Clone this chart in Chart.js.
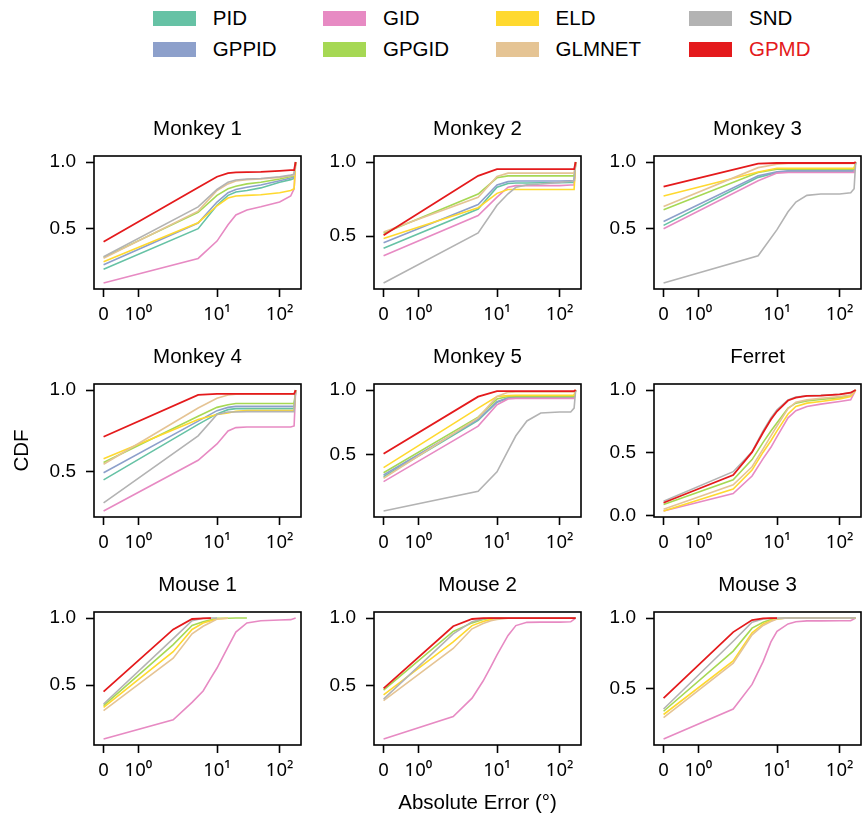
<!DOCTYPE html>
<html>
<head>
<meta charset="utf-8">
<script src="https://cdn.jsdelivr.net/npm/chart.js@4.4.1/dist/chart.umd.min.js"></script>
<style>
  body { margin: 0; background: #fff; }
  #fig { position: relative; width: 863px; height: 819px; overflow: hidden; font-family: "Liberation Sans", Arial, sans-serif; }
  #fig canvas { position: absolute; }
  .leg { position: absolute; display: flex; align-items: center; font-size: 20.5px; height: 24px; white-space: nowrap; }
  .leg .sw { display: inline-block; width: 43px; height: 15px; margin-right: 17px; }
</style>
</head>
<body>
<div id="fig"></div>
<script>
// methods in legend order (column-major) and their colours
const methods = ['PID', 'GPPID', 'GID', 'GPGID', 'ELD', 'GLMNET', 'SND', 'GPMD'];
const colors = ['#66c2a5', '#8da0cb', '#e78ac3', '#a6d854', '#ffd92f', '#e5c494', '#b3b3b3', '#e41a1c'];

const panelTitles = ['Monkey 1', 'Monkey 2', 'Monkey 3', 'Monkey 4', 'Monkey 5', 'Ferret', 'Mouse 1', 'Mouse 2', 'Mouse 3'];

// x positions (absolute error, degrees)
const xMonkey = [0, 5, 10, 15, 20, 30, 50, 100, 150, 170, 180];
const xSmall = [0, 2, 4, 6, 8, 10, 15, 20, 30, 50, 100, 150, 180];

const xTickValues = [0, 1, 10, 100];
const xTickText = ['0', '10\u2070', '10\u00b9', '10\u00b2'];
const yTickValues = [0, 0.5, 1];

// CDF values, one row per method (same order as methods)
const monkey1 = [
  [0.196, 0.500, 0.676, 0.750, 0.775, 0.787, 0.806, 0.848, 0.868, 0.877, 1.0],
  [0.230, 0.542, 0.700, 0.770, 0.794, 0.811, 0.828, 0.860, 0.880, 0.885, 1.0],
  [0.093, 0.277, 0.407, 0.530, 0.603, 0.640, 0.664, 0.700, 0.745, 0.800, 1.0],
  [0.285, 0.623, 0.750, 0.800, 0.818, 0.836, 0.848, 0.873, 0.892, 0.897, 1.0],
  [0.252, 0.545, 0.672, 0.730, 0.745, 0.750, 0.755, 0.770, 0.787, 0.800, 1.0],
  [0.279, 0.632, 0.787, 0.836, 0.858, 0.868, 0.873, 0.885, 0.897, 0.902, 1.0],
  [0.289, 0.664, 0.794, 0.848, 0.865, 0.873, 0.877, 0.890, 0.902, 0.909, 1.0],
  [0.402, 0.809, 0.890, 0.917, 0.922, 0.924, 0.926, 0.934, 0.939, 0.940, 1.0]
];
const monkey2 = [
  [0.419, 0.683, 0.830, 0.855, 0.859, 0.859, 0.860, 0.860, 0.862, 0.862, 1.0],
  [0.456, 0.714, 0.846, 0.868, 0.872, 0.872, 0.872, 0.872, 0.874, 0.874, 1.0],
  [0.368, 0.639, 0.764, 0.830, 0.841, 0.841, 0.841, 0.841, 0.845, 0.845, 1.0],
  [0.520, 0.784, 0.894, 0.907, 0.907, 0.907, 0.907, 0.907, 0.907, 0.907, 1.0],
  [0.485, 0.692, 0.789, 0.815, 0.815, 0.815, 0.815, 0.815, 0.815, 0.815, 1.0],
  [0.529, 0.762, 0.903, 0.925, 0.925, 0.925, 0.925, 0.925, 0.925, 0.925, 1.0],
  [0.185, 0.522, 0.709, 0.786, 0.830, 0.846, 0.852, 0.863, 0.870, 0.875, 1.0],
  [0.507, 0.907, 0.952, 0.952, 0.952, 0.952, 0.952, 0.952, 0.952, 0.952, 1.0]
];
const monkey3 = [
  [0.525, 0.885, 0.922, 0.930, 0.930, 0.930, 0.930, 0.930, 0.930, 0.930, 1.0],
  [0.554, 0.897, 0.926, 0.934, 0.934, 0.934, 0.934, 0.934, 0.934, 0.934, 1.0],
  [0.500, 0.860, 0.917, 0.922, 0.922, 0.922, 0.922, 0.922, 0.922, 0.922, 1.0],
  [0.642, 0.922, 0.946, 0.946, 0.946, 0.946, 0.946, 0.946, 0.946, 0.946, 1.0],
  [0.745, 0.926, 0.953, 0.953, 0.953, 0.953, 0.953, 0.953, 0.953, 0.953, 1.0],
  [0.667, 0.958, 0.983, 0.990, 0.990, 0.990, 0.990, 0.990, 0.990, 0.990, 1.0],
  [0.093, 0.297, 0.493, 0.627, 0.700, 0.750, 0.760, 0.760, 0.770, 0.800, 1.0],
  [0.816, 0.988, 0.993, 0.993, 0.993, 0.993, 0.993, 0.993, 0.993, 0.993, 1.0]
];
const monkey4 = [
  [0.450, 0.790, 0.854, 0.880, 0.886, 0.886, 0.886, 0.886, 0.886, 0.886, 1.0],
  [0.494, 0.810, 0.874, 0.894, 0.900, 0.900, 0.900, 0.900, 0.900, 0.900, 1.0],
  [0.260, 0.570, 0.670, 0.750, 0.770, 0.774, 0.774, 0.774, 0.774, 0.780, 1.0],
  [0.556, 0.840, 0.894, 0.910, 0.918, 0.918, 0.918, 0.918, 0.918, 0.918, 1.0],
  [0.580, 0.820, 0.850, 0.860, 0.870, 0.874, 0.874, 0.874, 0.874, 0.874, 1.0],
  [0.546, 0.890, 0.950, 0.970, 0.974, 0.976, 0.976, 0.976, 0.976, 0.976, 1.0],
  [0.310, 0.720, 0.850, 0.866, 0.866, 0.868, 0.868, 0.868, 0.868, 0.868, 1.0],
  [0.714, 0.970, 0.976, 0.976, 0.976, 0.976, 0.976, 0.976, 0.976, 0.976, 1.0]
];
const monkey5 = [
  [0.327, 0.764, 0.906, 0.937, 0.940, 0.940, 0.940, 0.940, 0.940, 0.940, 1.0],
  [0.340, 0.772, 0.910, 0.940, 0.944, 0.944, 0.944, 0.944, 0.944, 0.944, 1.0],
  [0.289, 0.720, 0.886, 0.930, 0.935, 0.935, 0.935, 0.935, 0.935, 0.935, 1.0],
  [0.358, 0.790, 0.930, 0.950, 0.950, 0.950, 0.950, 0.950, 0.950, 0.950, 1.0],
  [0.398, 0.860, 0.950, 0.957, 0.960, 0.960, 0.960, 0.960, 0.960, 0.960, 1.0],
  [0.315, 0.784, 0.950, 0.982, 0.985, 0.985, 0.985, 0.985, 0.985, 0.985, 1.0],
  [0.061, 0.213, 0.365, 0.530, 0.645, 0.760, 0.822, 0.830, 0.830, 0.860, 1.0],
  [0.505, 0.949, 0.992, 0.992, 0.992, 0.992, 0.992, 0.992, 0.992, 0.992, 1.0]
];
const ferret = [
  [],
  [],
  [0.039, 0.177, 0.317, 0.455, 0.545, 0.629, 0.779, 0.836, 0.870, 0.888, 0.909, 0.922, 1.0],
  [0.091, 0.286, 0.447, 0.584, 0.675, 0.740, 0.857, 0.896, 0.914, 0.925, 0.940, 0.956, 1.0],
  [0.039, 0.213, 0.364, 0.506, 0.597, 0.675, 0.810, 0.870, 0.896, 0.909, 0.930, 0.948, 1.0],
  [0.052, 0.247, 0.390, 0.532, 0.636, 0.714, 0.852, 0.904, 0.922, 0.935, 0.948, 0.961, 1.0],
  [0.117, 0.351, 0.510, 0.675, 0.779, 0.844, 0.922, 0.945, 0.955, 0.958, 0.967, 0.979, 1.0],
  [0.104, 0.325, 0.506, 0.662, 0.766, 0.831, 0.917, 0.940, 0.953, 0.956, 0.966, 0.979, 1.0]
];
const mouse1 = [
  [],
  [],
  [0.098, 0.241, 0.371, 0.456, 0.554, 0.627, 0.785, 0.895, 0.963, 0.980, 0.985, 0.988, 1.0],
  [0.346, 0.802, 0.944, 0.973, 0.988, 0.998, 0.999, 1.0, 1.0, null, null, null, null],
  [0.334, 0.749, 0.915, 0.963, 0.980, 0.993, 0.998, null, null, null, null, null, null],
  [0.310, 0.700, 0.883, 0.939, 0.968, 0.993, 0.998, null, null, null, null, null, null],
  [0.359, 0.846, 0.980, 0.998, 1.0, 1.0, null, null, null, null, null, null, null],
  [0.451, 0.915, 0.993, 0.998, 1.0, null, null, null, null, null, null, null, null]
];
const mouse2 = [
  [],
  [],
  [0.102, 0.269, 0.405, 0.532, 0.640, 0.726, 0.871, 0.944, 0.968, 0.970, 0.970, 0.972, 1.0],
  [0.464, 0.900, 0.964, 0.990, 0.998, 1.0, 1.0, 1.0, 1.0, 1.0, 1.0, 1.0, 1.0],
  [0.430, 0.823, 0.944, 0.975, 0.990, 0.998, 1.0, 1.0, 1.0, 1.0, 1.0, 1.0, 1.0],
  [0.386, 0.774, 0.920, 0.960, 0.980, 0.990, 0.998, 1.0, 1.0, 1.0, 1.0, 1.0, 1.0],
  [0.398, 0.883, 0.973, 0.995, 1.0, 1.0, 1.0, 1.0, 1.0, 1.0, 1.0, 1.0, 1.0],
  [0.478, 0.939, 0.993, 1.0, 1.0, 1.0, 1.0, 1.0, 1.0, 1.0, 1.0, 1.0, 1.0]
];
const mouse3 = [
  [],
  [],
  [0.140, 0.353, 0.528, 0.690, 0.830, 0.905, 0.958, 0.974, 0.980, 0.980, 0.981, 0.981, 1.0],
  [0.337, 0.765, 0.928, 0.970, 0.990, 0.995, 1.0, 1.0, 1.0, 1.0, 1.0, 1.0, 1.0],
  [0.314, 0.695, 0.895, 0.958, 0.980, 0.995, 1.0, 1.0, 1.0, 1.0, 1.0, 1.0, 1.0],
  [0.291, 0.679, 0.881, 0.947, 0.975, 0.993, 1.0, 1.0, 1.0, 1.0, 1.0, 1.0, 1.0],
  [0.353, 0.835, 0.970, 0.993, 0.998, 1.0, 1.0, 1.0, 1.0, 1.0, 1.0, 1.0, 1.0],
  [0.430, 0.900, 0.986, 0.998, 1.0, 1.0, null, null, null, null, null, null, null]
];

const panelX = [xMonkey, xMonkey, xMonkey, xMonkey, xMonkey, xSmall, xSmall, xSmall, xSmall];
const panelY = [monkey1, monkey2, monkey3, monkey4, monkey5, ferret, mouse1, mouse2, mouse3];

// layout (px)
const colLeft = [94, 374, 654];
const rowTop = [156, 384, 612];
const boxW = 207, boxH = 133;
const yAxisW = 94, titleH = 46, xAxisH = 72, rightPad = 8;

const FONT = "'Liberation Sans', Arial, sans-serif";
Chart.defaults.font.family = FONT;
Chart.defaults.color = '#000';

// symmetric log scale like matplotlib's symlog (linthresh 2, linscale 1)
const LINTHRESH = 2;
class SymlogScale extends Chart.Scale {
  static id = 'symlog';
  static defaults = {};
  determineDataLimits() {
    this.min = this.options.min;
    this.max = this.options.max;
  }
  buildTicks() {
    return xTickValues.map(v => ({ value: v }));
  }
  fwd(v) {
    const k = 1 / (1 - 1 / 10);
    const a = Math.abs(v);
    return Math.sign(v) * (a <= LINTHRESH ? a * k / LINTHRESH : k + Math.log10(a / LINTHRESH));
  }
  inv(t) {
    const k = 1 / (1 - 1 / 10);
    const a = Math.abs(t);
    return Math.sign(t) * (a <= k ? a * LINTHRESH / k : LINTHRESH * Math.pow(10, a - k));
  }
  configure() {
    super.configure();
    this._t0 = this.fwd(this.min);
    this._t1 = this.fwd(this.max);
  }
  getLabelForValue(v) { return String(v); }
  getPixelForValue(v) {
    return this.getPixelForDecimal((this.fwd(v) - this._t0) / (this._t1 - this._t0));
  }
  getValueForPixel(p) {
    return this.inv(this._t0 + this.getDecimalForPixel(p) * (this._t1 - this._t0));
  }
}
Chart.register(SymlogScale);

// box around the plot area
const framePlugin = {
  id: 'frame',
  afterDatasetsDraw(chart) {
    const a = chart.chartArea, ctx = chart.ctx;
    ctx.save();
    ctx.strokeStyle = '#000';
    ctx.lineWidth = 1.6;
    ctx.strokeRect(a.left, a.top, a.right - a.left, a.bottom - a.top);
    ctx.restore();
  }
};

const fig = document.getElementById('fig');

// legend
methods.forEach((m, i) => {
  const legLeft = [152.8, 323, 495.6, 689];
  const legMid = [18.3, 49];
  const d = document.createElement('div');
  d.className = 'leg';
  d.style.left = legLeft[Math.floor(i / 2)] + 'px';
  d.style.top = (legMid[i % 2] - 12) + 'px';
  d.innerHTML = '<span class="sw" style="background:' + colors[i] + '"></span><span>' + m + '</span>';
  if (m === 'GPMD') d.style.color = colors[i];
  fig.appendChild(d);
});

const tickGrid = { display: true, drawOnChartArea: false, drawTicks: true, tickLength: 8, tickWidth: 1.6, tickColor: '#000' };

panelTitles.forEach((title, p) => {
  const col = p % 3, row = Math.floor(p / 3);
  const cv = document.createElement('canvas');
  const W = yAxisW + boxW + rightPad, H = titleH + boxH + xAxisH;
  cv.width = W; cv.height = H;
  cv.style.left = (colLeft[col] - yAxisW) + 'px';
  cv.style.top = (rowTop[row] - titleH) + 'px';
  fig.appendChild(cv);

  const xs = panelX[p];
  const ys = panelY[p];
  let lo = Infinity, hi = -Infinity;
  const datasets = [];
  ys.forEach((vals, i) => {
    if (!vals.length) return;
    vals.forEach(v => { if (v !== null) { lo = Math.min(lo, v); hi = Math.max(hi, v); } });
    datasets.push({
      label: methods[i],
      data: xs.map((x, j) => ({ x: x, y: vals[j] })),
      borderColor: colors[i],
      borderWidth: i === 7 ? 1.8 : 1.6,
      pointRadius: 0,
      tension: 0,
      fill: false,
      order: methods.length - i
    });
  });
  const pad = 0.05 * (hi - lo);

  new Chart(cv, {
    type: 'line',
    data: { datasets },
    plugins: [framePlugin],
    options: {
      responsive: false,
      animation: false,
      events: [],
      layout: { padding: { left: 0, top: 0, bottom: 0, right: rightPad } },
      plugins: {
        legend: { display: false },
        tooltip: { enabled: false },
        title: {
          display: true, text: title, color: '#000', fullSize: false,
          font: { size: 20.5, weight: 'normal', lineHeight: 1.2 },
          padding: { top: 7.2, bottom: 14.2 }
        }
      },
      scales: {
        x: {
          type: 'symlog',
          min: -0.275,
          max: 219,
          grid: tickGrid,
          border: { display: false },
          ticks: {
            autoSkip: false, maxRotation: 0, minRotation: 0, padding: 7,
            font: { size: 18.5, family: "'Noto Sans', 'Liberation Sans', sans-serif" },
            callback: v => xTickText[xTickValues.indexOf(v)]
          },
          title: {
            display: p === 7, text: 'Absolute Error (\u00b0)',
            font: { size: 20.5, lineHeight: 1.2 }, padding: { top: 0, bottom: 1 }
          },
          afterFit: s => { s.height = xAxisH; }
        },
        y: {
          type: 'linear',
          min: lo - pad,
          max: hi + pad,
          grid: tickGrid,
          border: { display: false },
          ticks: { padding: 10, font: { size: 19 }, callback: v => v.toFixed(1) },
          afterBuildTicks: s => {
            s.ticks = yTickValues.filter(v => v >= s.min && v <= s.max).map(v => ({ value: v }));
          },
          title: {
            display: p === 3, text: 'CDF',
            font: { size: 20.5, lineHeight: 1.2 }, padding: { top: 9.7, bottom: 0 }
          },
          afterFit: s => { s.width = yAxisW; }
        }
      }
    }
  });
});
</script>
</body>
</html>
